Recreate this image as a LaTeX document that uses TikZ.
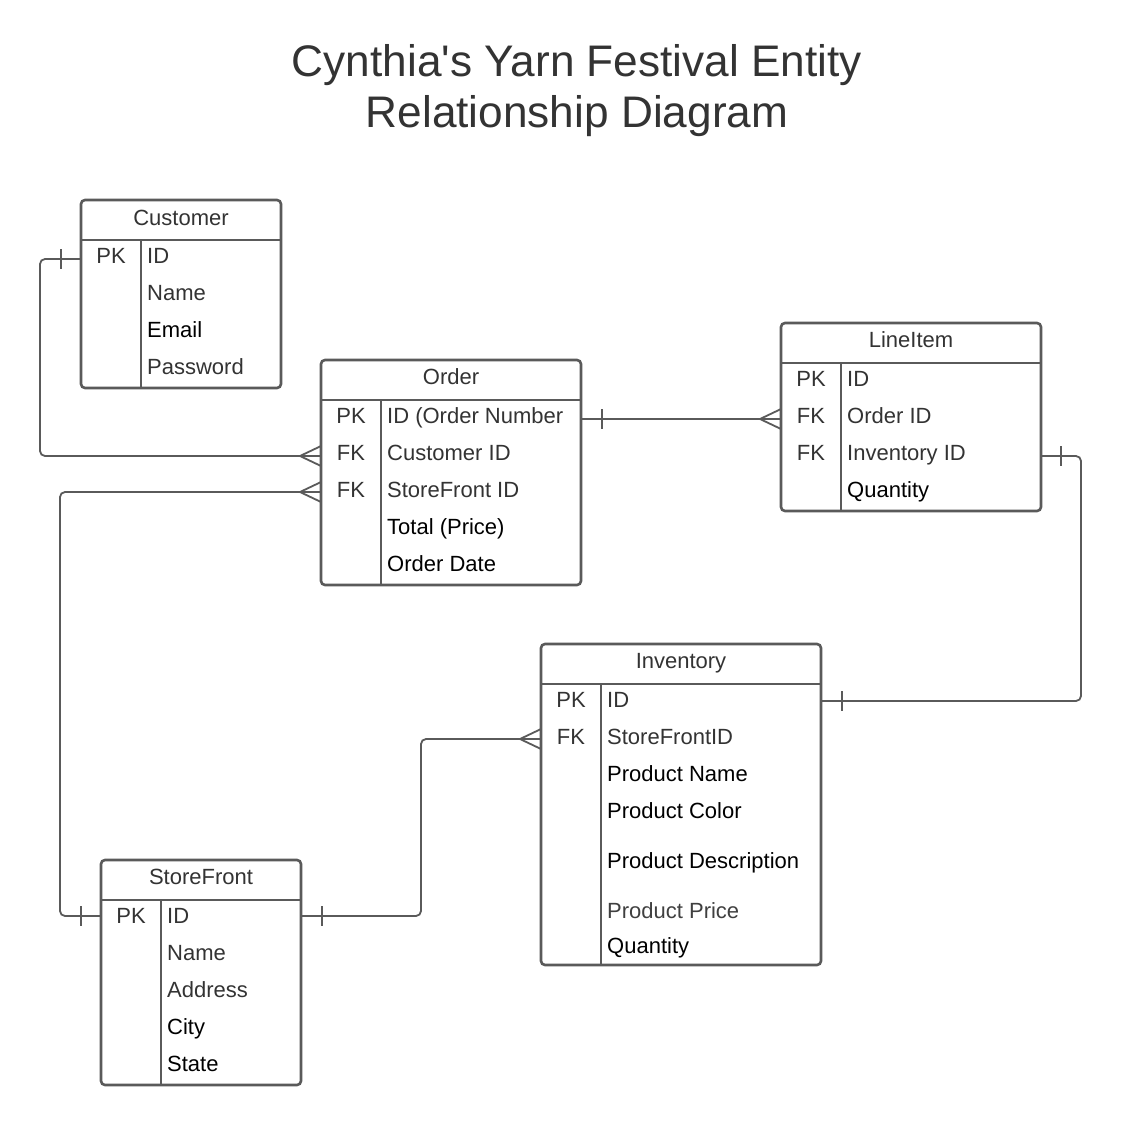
\documentclass[tikz,border=0pt]{standalone}
\usepackage{fontspec}
\setmainfont{Liberation Sans}
\newfontfamily\titlefont{Liberation Sans}[Ligatures=TeXOff]
\definecolor{ln}{HTML}{5A5A5A}
\definecolor{tx}{HTML}{333333}
\definecolor{tx2}{HTML}{404040}
\begin{document}
\begin{tikzpicture}[x=1pt,y=-1pt,
  erbox/.style={draw=ln, line width=2.6pt, rounded corners=4pt, inner sep=0pt, outer sep=0pt, anchor=north west},
  divline/.style={draw=ln, line width=2.6pt},
  hdr/.style={font=\fontsize{22}{26}\selectfont, text=tx, anchor=base, inner sep=0pt},
  fld/.style={font=\fontsize{22}{26}\selectfont, text=tx, anchor=base west, inner sep=0pt},
  blk/.style={fld, text=black},
  keyt/.style={font=\fontsize{22}{26}\selectfont, text=tx, anchor=base, inner sep=0pt},
  conn/.style={draw=ln, line width=1.8pt, rounded corners=5pt},
  barmk/.style={draw=ln, line width=1.8pt},
  title/.style={font=\titlefont\fontsize{44.2}{52}\selectfont, text=tx, anchor=base, inner sep=0pt}
]
\useasboundingbox[fill=white] (0,0) rectangle (1123,1125);

% Title
\node[title] (t1) at (577,76) {Cynthia's Yarn Festival Entity};
\node[title] (t2) at (577,127) {Relationship Diagram};

% ---------- Customer ----------
\node[erbox, minimum width=200pt, minimum height=188pt] (cust) at (81,200) {};
\draw[divline] (81,240) -- (281,240);
\draw[divline] (141,240) -- (141,388);
\node[hdr] (custh) at (181,225) {Customer};
\node[keyt] (custpk) at (111,263.5) {PK};
\node[fld] (custid) at (147,263.5) {ID};
\node[fld] (custname) at (147,300.5) {Name};
\node[blk] (custemail) at (147,337.5) {Email};
\node[fld] (custpw) at (147,374.5) {Password};

% ---------- Order ----------
\node[erbox, minimum width=260pt, minimum height=225pt] (ord) at (321,360) {};
\draw[divline] (321,400) -- (581,400);
\draw[divline] (381,400) -- (381,585);
\node[hdr] (ordh) at (451,384.5) {Order};
\node[keyt] (ordpk) at (351,423.5) {PK};
\node[keyt] (ordfk1) at (351,460.5) {FK};
\node[keyt] (ordfk2) at (351,497.5) {FK};
\node[fld] (ordid) at (387,423.5) {ID (Order Number};
\node[fld] (ordcid) at (387,460.5) {Customer ID};
\node[fld] (ordsid) at (387,497.5) {StoreFront ID};
\node[blk] (ordtot) at (387,534.5) {Total (Price)};
\node[blk] (orddate) at (387,571.5) {Order Date};

% ---------- LineItem ----------
\node[erbox, minimum width=260pt, minimum height=188pt] (li) at (781,323) {};
\draw[divline] (781,363) -- (1041,363);
\draw[divline] (841,363) -- (841,511);
\node[hdr] (lih) at (911,347.5) {LineItem};
\node[keyt] (lipk) at (811,386.5) {PK};
\node[keyt] (lifk1) at (811,423.5) {FK};
\node[keyt] (lifk2) at (811,460.5) {FK};
\node[fld] (liid) at (847,386.5) {ID};
\node[fld] (lioid) at (847,423.5) {Order ID};
\node[fld] (liiid) at (847,460.5) {Inventory ID};
\node[blk] (liqty) at (847,497.5) {Quantity};

% ---------- Inventory ----------
\node[erbox, minimum width=280pt, minimum height=321pt] (inv) at (541,644) {};
\draw[divline] (541,684) -- (821,684);
\draw[divline] (601,684) -- (601,965);
\node[hdr] (invh) at (681,668.5) {Inventory};
\node[keyt] (invpk) at (571,707.5) {PK};
\node[keyt] (invfk) at (571,744.5) {FK};
\node[fld] (invid) at (607,707.5) {ID};
\node[fld] (invsid) at (607,744.5) {StoreFrontID};
\node[blk] (invname) at (607,781.5) {Product Name};
\node[blk] (invcol) at (607,818.5) {Product Color};
\node[blk] (invdesc) at (607,868.5) {Product Description};
\node[fld, text=tx2] (invprice) at (607,918.5) {Product Price};
\node[blk] (invqty) at (607,953) {Quantity};

% ---------- StoreFront ----------
\node[erbox, minimum width=200pt, minimum height=225pt] (sf) at (101,860) {};
\draw[divline] (101,900) -- (301,900);
\draw[divline] (161,900) -- (161,1085);
\node[hdr] (sfh) at (201,884.5) {StoreFront};
\node[keyt] (sfpk) at (131,923.5) {PK};
\node[fld] (sfid) at (167,923.5) {ID};
\node[fld] (sfname) at (167,960.5) {Name};
\node[fld] (sfaddr) at (167,997.5) {Address};
\node[blk] (sfcity) at (167,1034.5) {City};
\node[blk] (sfstate) at (167,1071.5) {State};

% ---------- connection points ----------
\coordinate (c1a) at (cust.west |- 0,259);
\coordinate (c1b) at (ord.west |- 0,456);
\coordinate (c2a) at (sf.west |- 0,916);
\coordinate (c2b) at (ord.west |- 0,492);
\coordinate (c3a) at (ord.east |- 0,419);
\coordinate (c3b) at (li.west |- 0,419);
\coordinate (c4a) at (li.east |- 0,456);
\coordinate (c4b) at (inv.east |- 0,701);
\coordinate (c5a) at (sf.east |- 0,916);
\coordinate (c5b) at (inv.west |- 0,739);

% Customer -> Order
\draw[conn] (c1a) -- ++(-41,0) -- ++(0,197) -- (c1b);
\draw[barmk] ([xshift=-20pt]c1a) ++(0,-10) -- ++(0,20);
\draw[barmk] ([xshift=-21pt]c1b) -- ([yshift=-10pt]c1b) ([xshift=-21pt]c1b) -- ([yshift=10pt]c1b);

% StoreFront -> Order
\draw[conn] (c2a) -- ++(-41,0) -- ++(0,-424) -- (c2b);
\draw[barmk] ([xshift=-20pt]c2a) ++(0,-10) -- ++(0,20);
\draw[barmk] ([xshift=-21pt]c2b) -- ([yshift=-10pt]c2b) ([xshift=-21pt]c2b) -- ([yshift=10pt]c2b);

% Order -> LineItem
\draw[conn] (c3a) -- (c3b);
\draw[barmk] ([xshift=21pt]c3a) ++(0,-10) -- ++(0,20);
\draw[barmk] ([xshift=-21pt]c3b) -- ([yshift=-10pt]c3b) ([xshift=-21pt]c3b) -- ([yshift=10pt]c3b);

% LineItem -> Inventory
\draw[conn] (c4a) -- ++(40,0) -- ++(0,245) -- (c4b);
\draw[barmk] ([xshift=20pt]c4a) ++(0,-10) -- ++(0,20);
\draw[barmk] ([xshift=21pt]c4b) ++(0,-10) -- ++(0,20);

% StoreFront -> Inventory
\draw[conn] (c5a) -- ++(120,0) -- ++(0,-177) -- (c5b);
\draw[barmk] ([xshift=21pt]c5a) ++(0,-10) -- ++(0,20);
\draw[barmk] ([xshift=-21pt]c5b) -- ([yshift=-10pt]c5b) ([xshift=-21pt]c5b) -- ([yshift=10pt]c5b);
\end{tikzpicture}
\end{document}
